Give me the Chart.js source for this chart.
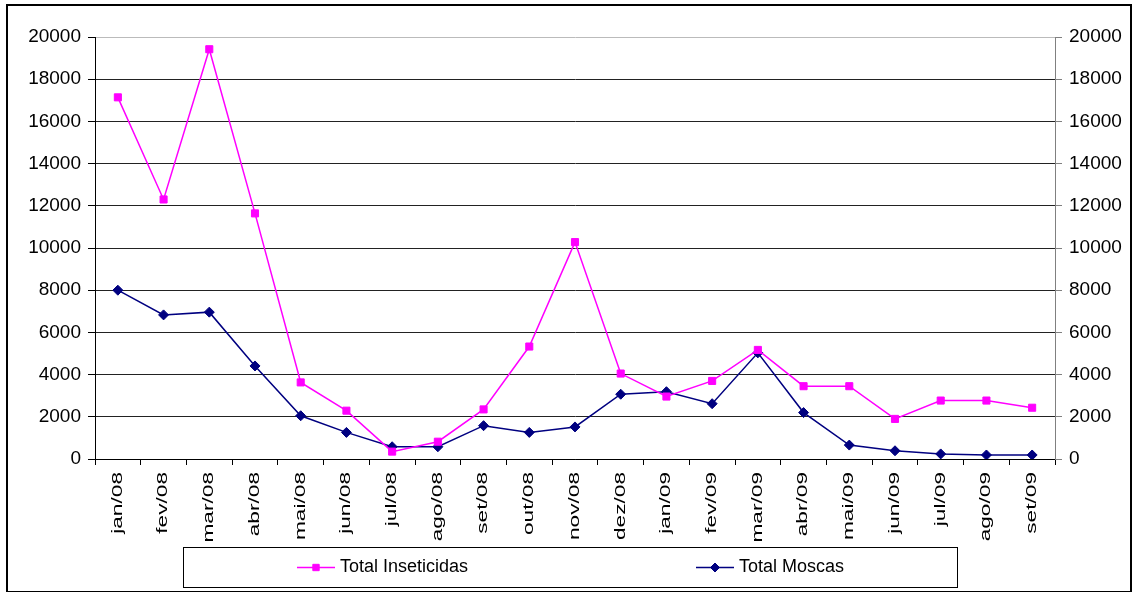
<!DOCTYPE html>
<html>
<head>
<meta charset="utf-8">
<script src="https://cdn.jsdelivr.net/npm/chart.js@4/dist/chart.umd.min.js"></script>
<style>
  html, body { margin: 0; padding: 0; background: #fff; }
  #wrap { width: 1133px; height: 592px; }
</style>
</head>
<body>
<div id="wrap"><canvas id="chart" width="1133" height="592"></canvas></div>
<script>
const months = ["jan/08", "fev/08", "mar/08", "abr/08", "mai/08", "jun/08", "jul/08", "ago/08", "set/08", "out/08", "nov/08", "dez/08",
  "jan/09", "fev/09", "mar/09", "abr/09", "mai/09", "jun/09", "jul/09", "ago/09", "set/09"];
const inseticidas = [17140, 12300, 19420, 11640, 3630, 2290, 350, 820, 2350, 5330, 10280, 4050,
  2960, 3700, 5170, 3450, 3450, 1900, 2770, 2770, 2430];
const moscas = [8000, 6830, 6960, 4410, 2050, 1260, 580, 580, 1580, 1260, 1520, 3070,
  3190, 2620, 5030, 2200, 660, 390, 240, 190, 190];
const yMin = 0, yMax = 20000, yStep = 2000;

const FONT = "'Liberation Sans', Arial, sans-serif";

// frame round the whole picture, stretched month labels and boxed legend (like the Excel original)
const framePlugin = {
  id: "frame",
  beforeDraw(chart) {
    const ctx = chart.ctx;
    ctx.save();
    ctx.fillStyle = "#fff";
    ctx.fillRect(0, 0, chart.width, chart.height);
    ctx.restore();
  },
  afterDraw(chart) {
    const ctx = chart.ctx;
    ctx.save();

    // month labels: the original has them drawn tall and narrow
    const xs = chart.scales.x;
    ctx.fillStyle = "#000";
    ctx.font = "14px " + FONT;
    ctx.textAlign = "right";
    ctx.textBaseline = "middle";
    xs.ticks.forEach((t, i) => {
      ctx.save();
      ctx.translate(xs.getPixelForTick(i), xs.top + 13);
      ctx.rotate(-Math.PI / 2);
      ctx.scale(1.62, 1);
      ctx.fillText(chart.data.labels[i], 0, 0);
      ctx.restore();
    });

    ctx.strokeStyle = "#000";
    ctx.lineWidth = 2;
    ctx.strokeRect(7, 5, 1124, 587);

    ctx.lineWidth = 1;
    ctx.strokeRect(183.5, 547.5, 774, 40);

    const items = [
      { x: 297, ds: chart.data.datasets[0] },
      { x: 696, ds: chart.data.datasets[1] }
    ];
    const y = 567.5;
    items.forEach(it => {
      ctx.strokeStyle = it.ds.borderColor;
      ctx.fillStyle = it.ds.backgroundColor;
      ctx.lineWidth = 1.5;
      ctx.beginPath();
      ctx.moveTo(it.x, y);
      ctx.lineTo(it.x + 38, y);
      ctx.stroke();
      ctx.lineWidth = 1;
      Chart.helpers.drawPoint(ctx, {
        pointStyle: it.ds.pointStyle,
        radius: 4.5,
        rotation: 0,
        borderWidth: 1
      }, it.x + 19, y);
      ctx.fillStyle = "#000";
      ctx.font = "18px " + FONT;
      ctx.textBaseline = "middle";
      ctx.textAlign = "left";
      ctx.fillText(it.ds.label, it.x + 43, y);
    });
    ctx.restore();
  }
};

function yAxis(position, width, lineColor) {
  return {
    type: "linear",
    position: position,
    min: yMin,
    max: yMax,
    afterFit(scale) { scale.width = width; },
    ticks: {
      stepSize: yStep,
      color: "#000",
      padding: 7,
      font: { family: FONT, size: 19 },
      callback: v => String(v)
    },
    grid: {
      drawOnChartArea: position === "left",
      color: ctx => (ctx.tick && ctx.tick.value === yMax) ? "#bbbbbb" : "#222",
      tickColor: lineColor,
      tickLength: 7,
      lineWidth: 1
    },
    border: { color: lineColor, width: 1 }
  };
}

new Chart(document.getElementById("chart"), {
  type: "line",
  data: {
    labels: months,
    datasets: [
      {
        label: "Total Inseticidas",
        data: inseticidas,
        borderColor: "#ff00ff",
        backgroundColor: "#ff00ff",
        borderWidth: 1.5,
        pointStyle: "rect",
        pointRadius: 5,
        pointBorderWidth: 1,
        tension: 0,
        yAxisID: "y"
      },
      {
        label: "Total Moscas",
        data: moscas,
        borderColor: "#000080",
        backgroundColor: "#000080",
        borderWidth: 1.5,
        pointStyle: "rectRot",
        pointRadius: 5,
        pointBorderWidth: 1,
        tension: 0,
        yAxisID: "y"
      }
    ]
  },
  plugins: [framePlugin],
  options: {
    responsive: false,
    animation: false,
    layout: { padding: { top: 37, left: 0, right: 0, bottom: 0 } },
    plugins: {
      legend: { display: false },
      tooltip: { enabled: false }
    },
    scales: {
      x: {
        offset: true,
        afterFit(scale) { scale.height = 133; },
        ticks: {
          display: false,
          autoSkip: false
        },
        grid: {
          offset: true,
          drawOnChartArea: false,
          color: "#000",
          tickLength: 6
        },
        border: { color: "#000", width: 1 }
      },
      y: yAxis("left", 95, "#000"),
      y2: yAxis("right", 78, "#808080")
    }
  }
});
</script>
</body>
</html>
